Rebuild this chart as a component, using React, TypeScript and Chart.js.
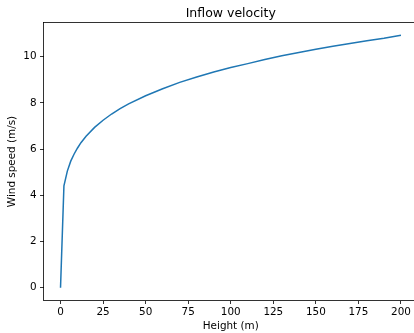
import React, { useEffect, useRef } from "react";
import { Chart, registerables } from "chart.js";

Chart.register(...registerables);

const chartTitle = "Inflow velocity";
const xAxisLabel = "Height (m)";
const yAxisLabel = "Wind speed (m/s)";

const heights = [0, 2, 4, 6, 8, 10, 12, 15, 20, 25, 30, 35, 40, 50, 60, 70, 80, 90, 100, 110, 120, 130, 140, 150, 160, 170, 180, 190, 200];
const windSpeed = [0, 4.41, 5.05, 5.48, 5.79, 6.05, 6.28, 6.56, 6.94, 7.25, 7.52, 7.75, 7.96, 8.31, 8.61, 8.89, 9.12, 9.34, 9.53, 9.7, 9.88, 10.04, 10.18, 10.32, 10.45, 10.57, 10.69, 10.8, 10.93];

const xTicks = [0, 25, 50, 75, 100, 125, 150, 175, 200];
const yTicks = [0, 2, 4, 6, 8, 10];

const FONT = '"DejaVu Sans", sans-serif';
const LABEL_SIZE = 10.4;

const framePlugin = {
  id: "frameAndTitle",
  afterDraw(chart: any) {
    const { ctx, chartArea } = chart;
    const { left, top, right, bottom } = chartArea;
    ctx.save();
    ctx.strokeStyle = "#000";
    ctx.lineWidth = 0.8;
    ctx.strokeRect(left, top, right - left, bottom - top);
    ctx.fillStyle = "#000";
    ctx.font = `12.5px ${FONT}`;
    ctx.textAlign = "center";
    ctx.textBaseline = "alphabetic";
    ctx.fillText(chartTitle, (left + right) / 2, top - 6);
    ctx.restore();
  },
};

export default function App() {
  const ref = useRef<HTMLCanvasElement | null>(null);

  useEffect(() => {
    if (!ref.current) return;
    Chart.defaults.font.family = FONT;
    Chart.defaults.color = "#000";
    const chart = new Chart(ref.current, {
      type: "line",
      data: {
        datasets: [
          {
            data: heights.map((h, i) => ({ x: h, y: windSpeed[i] })),
            borderColor: "#1f77b4",
            borderWidth: 1.5,
            pointRadius: 0,
            tension: 0,
            fill: false,
          },
        ],
      },
      options: {
        animation: false,
        responsive: false,
        devicePixelRatio: 1,
        layout: { padding: { left: 0, top: 22.5, right: 2, bottom: 0 } },
        plugins: {
          legend: { display: false },
          tooltip: { enabled: false },
          title: { display: false },
        },
        scales: {
          x: {
            type: "linear",
            min: -10,
            max: 210,
            afterFit: (scale: any) => {
              scale.height = 32.5;
            },
            afterBuildTicks: (axis: any) => {
              axis.ticks = xTicks.map((v) => ({ value: v }));
            },
            ticks: {
              font: { size: LABEL_SIZE },
              color: "#000",
              padding: 2.5,
              maxRotation: 0,
              autoSkip: false,
            },
            grid: {
              drawOnChartArea: false,
              drawTicks: true,
              tickLength: 3.5,
              tickWidth: 0.8,
              tickColor: "#000",
            },
            border: { display: false },
            title: {
              display: true,
              text: xAxisLabel,
              font: { size: LABEL_SIZE },
              color: "#000",
              padding: { top: 0, bottom: 0.2 },
            },
          },
          y: {
            type: "linear",
            min: -0.55,
            max: 11.48,
            afterFit: (scale: any) => {
              scale.width = 43.5;
            },
            afterBuildTicks: (axis: any) => {
              axis.ticks = yTicks.map((v) => ({ value: v }));
            },
            ticks: {
              font: { size: LABEL_SIZE },
              color: "#000",
              padding: 3.5,
              autoSkip: false,
            },
            grid: {
              drawOnChartArea: false,
              drawTicks: true,
              tickLength: 3.5,
              tickWidth: 0.8,
              tickColor: "#000",
            },
            border: { display: false },
            title: {
              display: true,
              text: yAxisLabel,
              font: { size: LABEL_SIZE },
              color: "#000",
              padding: { top: 6.5, bottom: 0 },
            },
          },
        },
      },
      plugins: [framePlugin],
    });
    return () => chart.destroy();
  }, []);

  return (
    <div
      style={{
        position: "absolute",
        left: 0,
        top: 0,
        width: 414,
        height: 333,
        overflow: "hidden",
        background: "#fff",
      }}
    >
      <canvas ref={ref} width={420} height={333} style={{ width: 420, height: 333, display: "block" }} />
    </div>
  );
}
